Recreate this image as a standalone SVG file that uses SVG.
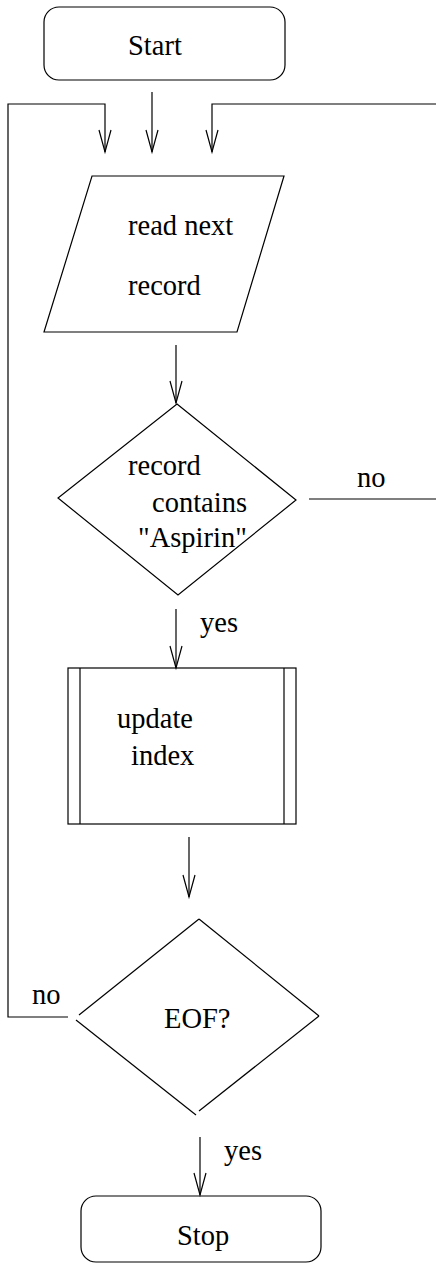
<svg xmlns="http://www.w3.org/2000/svg" width="436" height="1265" viewBox="0 0 436 1265">
  <style>
    .shape { fill: none; stroke: #000; stroke-width: 1.2; }
    .edge { fill: none; stroke: #000; stroke-width: 1.2; }
    text { font-family: "Liberation Serif", "Times New Roman", serif; font-size: 28.5px; fill: #000; }
  </style>
  <defs>
    <marker id="vee" markerUnits="userSpaceOnUse" markerWidth="30" markerHeight="30" refX="0" refY="0" orient="auto" overflow="visible">
      <path d="M-22,-6 L0,0 L-22,6" fill="none" stroke="#000" stroke-width="1.2"/>
    </marker>
  </defs>
  <rect width="436" height="1265" fill="#fff"/>

  <g id="connectors">
    <path class="edge" d="M152,92 V152" marker-end="url(#vee)"/>
    <path class="edge" d="M68,1017 H8 V104 H105 V152" marker-end="url(#vee)"/>
    <path class="edge" d="M309,499 H442 V104 H212 V152" marker-end="url(#vee)"/>
    <path class="edge" d="M176,345 V403" marker-end="url(#vee)"/>
    <path class="edge" d="M176,609 V668" marker-end="url(#vee)"/>
    <path class="edge" d="M189,837 V897" marker-end="url(#vee)"/>
    <path class="edge" d="M200,1137 V1195" marker-end="url(#vee)"/>
    <text x="357" y="487">no</text>
    <text x="200" y="632">yes</text>
    <text x="32" y="1004">no</text>
    <text x="224" y="1160">yes</text>
  </g>

  <g id="start">
    <rect class="shape" x="44" y="7" width="241" height="73" rx="15" ry="15"/>
    <text x="128" y="55">Start</text>
  </g>

  <g id="read-record">
    <polygon class="shape" points="92,176 284,176 237,332 44,332"/>
    <text x="128" y="235">read next</text>
    <text x="128" y="295">record</text>
  </g>

  <g id="contains-check">
    <polygon class="shape" points="177,404 296,500 178,595 58,498"/>
    <text x="128" y="475">record</text>
    <text x="152" y="512">contains</text>
    <text x="138" y="547">"Aspirin"</text>
  </g>

  <g id="update-index">
    <rect class="shape" x="68" y="668" width="228" height="156"/>
    <line class="shape" x1="80" y1="668" x2="80" y2="824"/>
    <line class="shape" x1="284" y1="668" x2="284" y2="824"/>
    <text x="117" y="728">update</text>
    <text x="131" y="765">index</text>
  </g>

  <g id="eof-check">
    <line class="shape" x1="199" y1="919" x2="79" y2="1015"/>
    <line class="shape" x1="76" y1="1020" x2="196" y2="1115"/>
    <line class="shape" x1="199" y1="919" x2="319" y2="1016"/>
    <line class="shape" x1="319" y1="1016" x2="199" y2="1111"/>
    <text x="164" y="1028">EOF?</text>
  </g>

  <g id="stop">
    <rect class="shape" x="81" y="1196" width="240" height="66" rx="15" ry="15"/>
    <text x="177" y="1245">Stop</text>
  </g>
</svg>
